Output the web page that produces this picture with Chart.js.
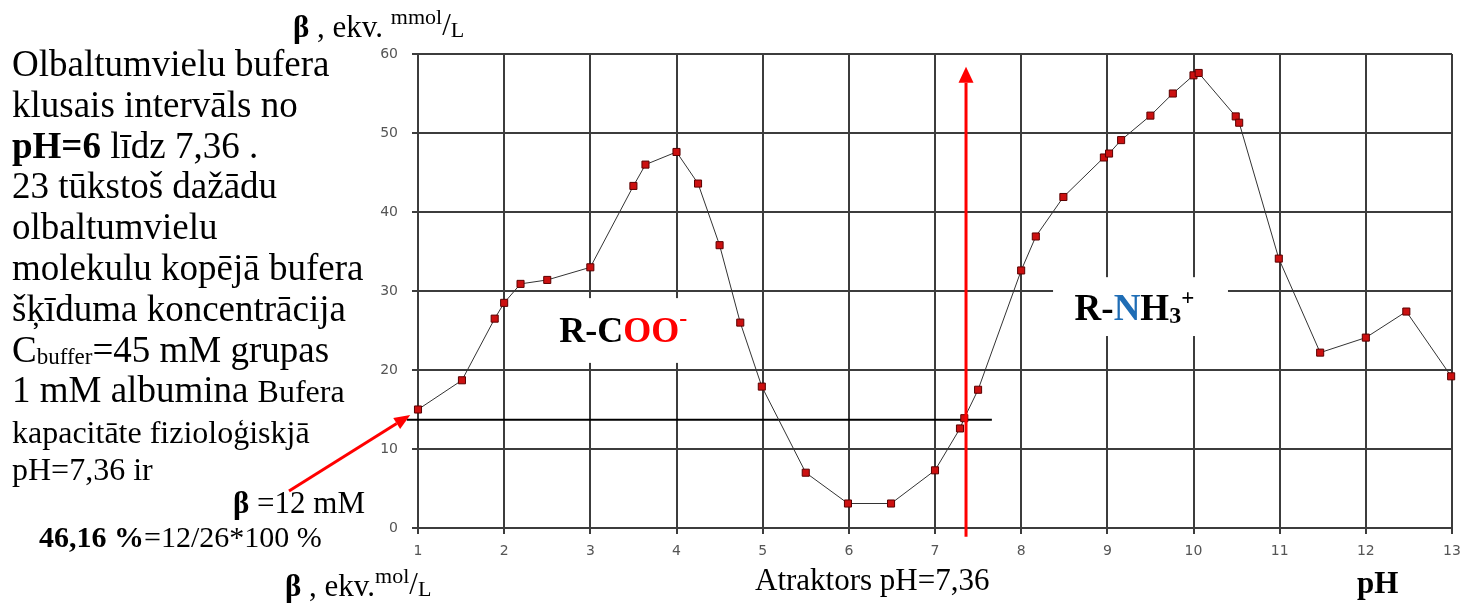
<!DOCTYPE html>
<html>
<head>
<meta charset="utf-8">
<script src="https://cdn.jsdelivr.net/npm/chart.js@4.4.1/dist/chart.umd.min.js"></script>
<style>
  body { margin: 0; background: #fff; }
  #wrap { width: 1462px; height: 603px; }
</style>
</head>
<body>
<div id="wrap"><canvas id="chartCanvas" width="1462" height="603"></canvas></div>
<script>
// pH values
const phValues = [1.0, 1.51, 1.89, 2.0, 2.19, 2.5, 3.0, 3.5, 3.64, 4.0, 4.25, 4.5, 4.74, 4.99,
    5.5, 5.99, 6.49, 7.0, 7.29, 7.34, 7.5, 8.0, 8.17, 8.49, 8.96, 9.02, 9.16, 9.5, 9.76,
    10.0, 10.06, 10.49, 10.53, 10.99, 11.47, 12.0, 12.47, 12.99];

// buffer capacity beta, ekv. mmol/L
const bufferCapacity = [15.0, 18.7, 26.5, 28.5, 30.9, 31.4, 33.0, 43.3, 46.0, 47.6, 43.6, 35.8, 26.0, 17.9,
    7.0, 3.1, 3.1, 7.3, 12.6, 13.9, 17.5, 32.6, 36.9, 41.9, 46.9, 47.4, 49.1, 52.2, 55.0,
    57.3, 57.6, 52.1, 51.3, 34.1, 22.2, 24.1, 27.4, 19.2];

const xTicks = [1, 2, 3, 4, 5, 6, 7, 8, 9, 10, 11, 12, 13];
const yTicks = [0, 10, 20, 30, 40, 50, 60];

// annotation values
const attractorPH = 7.36;
const betaLevel = 13.7;

const serif = '"Liberation Serif", "Times New Roman", serif';
const gridColor = '#3c3c3c';

// draws a line of text made of several styled parts
function drawRich(ctx, x, y, parts) {
    let cx = x;
    parts.forEach((p) => {
        ctx.font = p.font;
        ctx.fillStyle = p.color || '#000';
        ctx.fillText(p.text, cx, y + (p.dy || 0));
        cx += ctx.measureText(p.text).width;
    });
}

function arrow(ctx, x1, y1, x2, y2, headLen, headWidth) {
    const ang = Math.atan2(y2 - y1, x2 - x1);
    const bx = x2 - headLen * Math.cos(ang);
    const by = y2 - headLen * Math.sin(ang);
    ctx.beginPath();
    ctx.moveTo(x1, y1);
    ctx.lineTo(bx, by);
    ctx.stroke();
    ctx.beginPath();
    ctx.moveTo(x2, y2);
    ctx.lineTo(bx + headWidth / 2 * Math.sin(ang), by - headWidth / 2 * Math.cos(ang));
    ctx.lineTo(bx - headWidth / 2 * Math.sin(ang), by + headWidth / 2 * Math.cos(ang));
    ctx.closePath();
    ctx.fill();
}

// white boxes behind the group labels, drawn over the grid
const labelBoxes = {
    id: 'labelBoxes',
    beforeDatasetsDraw(chart) {
        const ctx = chart.ctx;
        const x = chart.scales.x;
        const y = chart.scales.y;
        ctx.save();
        ctx.fillStyle = '#fff';
        [[2.3, 4.45, 29.1, 20.9], [8.37, 10.4, 31.75, 24.3]].forEach((b) => {
            const l = x.getPixelForValue(b[0]);
            const r = x.getPixelForValue(b[1]);
            const t = y.getPixelForValue(b[2]);
            const btm = y.getPixelForValue(b[3]);
            ctx.fillRect(l, t, r - l, btm - t);
        });
        // black level line at the attractor
        ctx.strokeStyle = '#000';
        ctx.lineWidth = 2;
        ctx.beginPath();
        ctx.moveTo(x.getPixelForValue(0.87), y.getPixelForValue(betaLevel));
        ctx.lineTo(x.getPixelForValue(7.66), y.getPixelForValue(betaLevel));
        ctx.stroke();
        ctx.restore();
    }
};

const annotations = {
    id: 'annotations',
    afterDraw(chart) {
        const ctx = chart.ctx;
        const x = chart.scales.x;
        const y = chart.scales.y;
        ctx.save();

        // red arrows
        ctx.strokeStyle = '#ff0000';
        ctx.fillStyle = '#ff0000';
        ctx.lineWidth = 3;
        const ax = x.getPixelForValue(attractorPH);
        arrow(ctx, ax, y.getPixelForValue(-1.1), ax, y.getPixelForValue(58.4), 16, 15);
        arrow(ctx, 289, 491, x.getPixelForValue(0.91), y.getPixelForValue(14.3), 16, 13);

        ctx.textBaseline = 'alphabetic';
        ctx.textAlign = 'left';

        // group labels
        drawRich(ctx, x.getPixelForValue(2.64), y.getPixelForValue(23.5), [
            { text: 'R-C', font: 'bold 36px ' + serif },
            { text: 'OO', font: 'bold 36px ' + serif, color: '#ff0000' },
            { text: '-', font: 'bold 24px ' + serif, color: '#ff0000', dy: -16 }
        ]);
        drawRich(ctx, x.getPixelForValue(8.62), y.getPixelForValue(26.3), [
            { text: 'R-', font: 'bold 37px ' + serif },
            { text: 'N', font: 'bold 37px ' + serif, color: '#1f6db5' },
            { text: 'H', font: 'bold 37px ' + serif },
            { text: '3', font: 'bold 24px ' + serif, dy: 3 },
            { text: '+', font: 'bold 23px ' + serif, dy: -15 }
        ]);

        // axis titles
        drawRich(ctx, 293, 37, [
            { text: 'β', font: 'bold 31px ' + serif },
            { text: ' , ekv. ', font: '31px ' + serif },
            { text: 'mmol', font: '22px ' + serif, dy: -13 },
            { text: '/', font: '31px ' + serif, dy: -2 },
            { text: 'L', font: '22px ' + serif }
        ]);
        drawRich(ctx, 285, 596, [
            { text: 'β', font: 'bold 31px ' + serif },
            { text: ' , ekv.', font: '31px ' + serif },
            { text: 'mol', font: '22px ' + serif, dy: -13 },
            { text: '/', font: '31px ' + serif, dy: -2 },
            { text: 'L', font: '22px ' + serif }
        ]);
        drawRich(ctx, 755, 590, [{ text: 'Atraktors pH=7,36', font: '31px ' + serif }]);
        drawRich(ctx, 1357, 593, [{ text: 'pH', font: 'bold 31px ' + serif }]);

        // left side note
        const big = '37px ' + serif;
        const mid = '32px ' + serif;
        const lines = [
            [{ text: 'Olbaltumvielu bufera', font: big }],
            [{ text: 'klusais intervāls no', font: big }],
            [{ text: 'pH=6', font: 'bold ' + big }, { text: ' līdz 7,36 .', font: big }],
            [{ text: '23 tūkstoš dažādu', font: big }],
            [{ text: 'olbaltumvielu', font: big }],
            [{ text: 'molekulu kopējā bufera', font: big }],
            [{ text: 'šķīduma koncentrācija', font: big }],
            [{ text: 'C', font: big }, { text: 'buffer', font: '23px ' + serif, dy: 2 }, { text: '=45 mM grupas', font: big }],
            [{ text: '1 mM albumina ', font: big }, { text: 'Bufera', font: mid }]
        ];
        lines.forEach((parts, i) => drawRich(ctx, 12, 76 + i * 40.8, parts));
        drawRich(ctx, 12, 443, [{ text: 'kapacitāte fizioloģiskjā', font: mid }]);
        drawRich(ctx, 12, 480, [{ text: 'pH=7,36 ir', font: mid }]);
        drawRich(ctx, 233, 513, [
            { text: 'β', font: 'bold 31px ' + serif },
            { text: ' =12 mM', font: '31px ' + serif }
        ]);
        drawRich(ctx, 39, 547, [
            { text: '46,16 %', font: 'bold 30px ' + serif },
            { text: '=12/26*100 %', font: '30px ' + serif }
        ]);

        ctx.restore();
    }
};

const tickFont = { family: '"DejaVu Sans", Arial, sans-serif', size: 14 };

const ctx = document.getElementById('chartCanvas').getContext('2d');
const myChart = new Chart(ctx, {
    type: 'line',
    data: {
        datasets: [{
            data: phValues.map((ph, i) => ({ x: ph, y: bufferCapacity[i] })),
            borderColor: '#333',
            borderWidth: 1,
            pointStyle: 'rect',
            pointRadius: 5,
            pointBackgroundColor: '#cc1010',
            pointBorderColor: '#5a0000',
            pointBorderWidth: 1,
            tension: 0,
            clip: false
        }]
    },
    options: {
        responsive: false,
        animation: false,
        layout: { padding: { left: 0, top: 54, right: 10, bottom: 0 } },
        plugins: {
            legend: { display: false },
            tooltip: { enabled: false }
        },
        scales: {
            x: {
                type: 'linear',
                min: 1,
                max: 13,
                afterBuildTicks: (scale) => { scale.ticks = xTicks.map((v) => ({ value: v })); },
                afterFit: (scale) => {
                    scale.height = 75;
                    scale.paddingLeft = 0;
                    scale.paddingRight = 0;
                },
                grid: { color: gridColor, lineWidth: 2, tickLength: 6 },
                border: { color: gridColor, width: 2 },
                ticks: { color: '#555', padding: 9, font: tickFont }
            },
            y: {
                min: 0,
                max: 60,
                afterBuildTicks: (scale) => { scale.ticks = yTicks.map((v) => ({ value: v })); },
                afterFit: (scale) => {
                    scale.width = 418;
                    scale.paddingTop = 0;
                    scale.paddingBottom = 0;
                },
                grid: { color: gridColor, lineWidth: 2, tickLength: 6 },
                border: { color: gridColor, width: 2 },
                ticks: { color: '#555', padding: 14, font: tickFont }
            }
        }
    },
    plugins: [labelBoxes, annotations]
});
</script>
</body>
</html>
